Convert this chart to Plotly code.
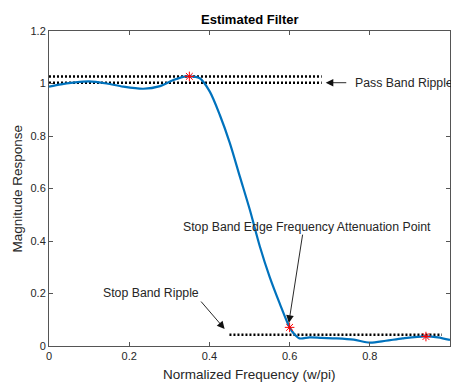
import plotly.graph_objects as go

freq = [0, 0.03, 0.06, 0.10, 0.144, 0.185, 0.235, 0.277, 0.31, 0.343, 0.376, 0.401,
        0.426, 0.451, 0.476, 0.501, 0.526, 0.55, 0.575, 0.60, 0.612, 0.625, 0.65, 0.68,
        0.717, 0.76, 0.80, 0.84, 0.882, 0.937, 0.97, 1.0]
mag = [0.988, 0.997, 1.003, 1.008, 1.0, 0.988, 0.98, 0.99, 1.013, 1.027, 1.02, 0.969,
       0.88, 0.773, 0.645, 0.518, 0.378, 0.264, 0.163, 0.071, 0.045, 0.029, 0.033, 0.031,
       0.029, 0.024, 0.013, 0.02, 0.029, 0.037, 0.033, 0.023]

pass_x = [0, 0.68]
pass_upper = [1.027, 1.027]
pass_lower = [1.003, 1.003]
stop_x = [0.45, 0.98]
stop_level = [0.043, 0.043]

star_x = [0.35, 0.6, 0.94]
star_y = [1.027, 0.071, 0.036]

FONT = "Liberation Sans, Arial, sans-serif"

fig = go.Figure()
dot = dict(color="black", width=2.5, dash="2px,2px")
fig.add_trace(go.Scatter(x=pass_x, y=pass_upper, mode="lines", line=dot))
fig.add_trace(go.Scatter(x=pass_x, y=pass_lower, mode="lines", line=dot))
fig.add_trace(go.Scatter(x=stop_x, y=stop_level, mode="lines", line=dot))
fig.add_trace(go.Scatter(x=freq, y=mag, mode="lines", line=dict(color="#0072BD", width=2.2, shape="spline", smoothing=0.8)))
fig.add_trace(go.Scatter(x=star_x, y=star_y, mode="markers",
                         marker=dict(symbol="asterisk-open", size=8, color="red", line=dict(color="red", width=1))))

ann = []
afont = dict(family=FONT, size=12.3, color="#262626")
# Pass band
ann.append(dict(x=0.757, y=1.003, xref="x", yref="y", text="Pass Band Ripple", showarrow=False,
                xanchor="left", yanchor="middle", font=afont))
ann.append(dict(x=0.69, y=1.003, ax=0.745, ay=1.003, xref="x", yref="y", axref="x", ayref="y",
                text="", showarrow=True, arrowhead=2, arrowsize=1.7, arrowwidth=0.9, arrowcolor="#111", standoff=0))
# Stop band edge
ann.append(dict(x=0.643, y=0.453, xref="x", yref="y", text="Stop Band Edge Frequency Attenuation Point",
                showarrow=False, xanchor="center", yanchor="middle", font=afont))
ann.append(dict(x=0.598, y=0.088, ax=0.633, ay=0.43, xref="x", yref="y", axref="x", ayref="y",
                text="", showarrow=True, arrowhead=2, arrowsize=1.7, arrowwidth=0.9, arrowcolor="#111", standoff=0))
# Stop band ripple
ann.append(dict(x=0.254, y=0.202, xref="x", yref="y", text="Stop Band Ripple",
                showarrow=False, xanchor="center", yanchor="middle", font=afont))
ann.append(dict(x=0.438, y=0.065, ax=0.376, ay=0.175, xref="x", yref="y", axref="x", ayref="y",
                text="", showarrow=True, arrowhead=2, arrowsize=1.7, arrowwidth=0.9, arrowcolor="#111", standoff=0))
# Axis titles
tfont = dict(family=FONT, size=13.5, color="#262626")
ann.append(dict(x=0.5, y=0, xref="paper", yref="paper", yshift=-28, text="Normalized Frequency (w/pi)",
                showarrow=False, xanchor="center", yanchor="middle", font=tfont))
ann.append(dict(x=0, y=0.5, xref="paper", yref="paper", xshift=-32, text="Magnitude Response", textangle=-90,
                showarrow=False, xanchor="center", yanchor="middle", font=tfont))
# Title
ann.append(dict(x=0.5, y=1, xref="paper", yref="paper", yshift=12, text="<b>Estimated Filter</b>",
                showarrow=False, xanchor="center", yanchor="middle",
                font=dict(family=FONT, size=13, color="black")))

axis_common = dict(showgrid=False, zeroline=False, showline=True, linecolor="#555", linewidth=1,
                   mirror="ticks", ticks="inside", ticklen=4, tickcolor="#555", automargin=False,
                   tickfont=dict(family=FONT, size=11, color="#262626"), dtick=0.2)

fig.update_layout(
    width=451, height=383,
    margin=dict(l=49, r=1, t=31, b=37, autoexpand=False),
    paper_bgcolor="white", plot_bgcolor="white",
    showlegend=False,
    xaxis=dict(range=[0, 1], **axis_common),
    yaxis=dict(range=[0, 1.2], **axis_common),
    annotations=ann,
)

fig.write_html("out.html", config={"displayModeBar": False},
               post_script="document.body.style.margin='0';document.body.style.overflow='hidden';")
